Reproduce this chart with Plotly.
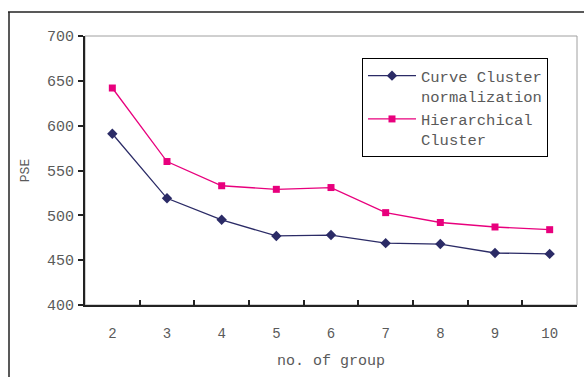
import plotly.graph_objects as go

groups = ["2", "3", "4", "5", "6", "7", "8", "9", "10"]
curve_cluster = [591, 519, 495, 477, 478, 469, 468, 458, 457]
hier_cluster = [642, 560, 533, 529, 531, 503, 492, 487, 484]
y_ticks = [400, 450, 500, 550, 600, 650, 700]

FONT = "Courier New, Liberation Mono, Cousine, Nimbus Mono PS, Courier, monospace"
GRAY = "#5a5a5a"

fig = go.Figure()
fig.add_trace(go.Scatter(
    x=groups, y=curve_cluster, name="Curve Cluster<br>normalization",
    mode="lines+markers",
    line=dict(color="#2b2b66", width=1.3),
    marker=dict(symbol="diamond", size=8, color="#2b2b66"),
))
fig.add_trace(go.Scatter(
    x=groups, y=hier_cluster, name="Hierarchical<br>Cluster",
    mode="lines+markers",
    line=dict(color="#e8007d", width=1.3),
    marker=dict(symbol="square", size=7, color="#e8007d"),
))

fig.update_layout(
    width=584, height=377,
    margin=dict(l=85, r=7, t=36, b=72),
    paper_bgcolor="white", plot_bgcolor="white",
    font=dict(family=FONT, size=14, color=GRAY),
    showlegend=True,
    legend=dict(
        x=0.563, y=0.918, xanchor="left", yanchor="top",
        bordercolor="black", borderwidth=1, bgcolor="white",
        font=dict(family=FONT, size=15.5, color=GRAY),
        valign="top", tracegroupgap=0, itemwidth=48,
    ),
    shapes=[
        dict(type="rect", xref="paper", yref="paper", x0=0, x1=1, y0=0, y1=1,
             line=dict(color="#a0a0a0", width=1), layer="below"),
        dict(type="line", xref="paper", yref="paper",
             x0=(8 - 85) / 492, x1=(584 - 85) / 492,
             y0=1 + (36 - 12) / 269, y1=1 + (36 - 12) / 269,
             line=dict(color="#222", width=1.5)),
        dict(type="line", xref="paper", yref="paper",
             x0=(9 - 85) / 492, x1=(9 - 85) / 492,
             y0=1 + (36 - 12) / 269, y1=-(377 - 305) / 269 - 0.05,
             line=dict(color="#222", width=1.5)),
    ],
)

fig.update_xaxes(
    type="category", categoryorder="array", categoryarray=groups,
    range=[-0.5, 8.5],
    showgrid=False, zeroline=False,
    showline=True, linecolor="#222", linewidth=2,
    ticks="inside", tickson="boundaries", ticklen=5, tickcolor="#222", tickwidth=1.5,
    ticklabelstandoff=14,
    tickfont=dict(family=FONT, size=14, color=GRAY),
    title=dict(text="no. of group", standoff=14,
               font=dict(family=FONT, size=15, color=GRAY)),
)
fig.update_yaxes(
    range=[400, 700], tickvals=y_ticks,
    showgrid=False, zeroline=False,
    showline=True, linecolor="#222", linewidth=2,
    ticks="outside", ticklen=5, tickcolor="#222", tickwidth=1.5,
    ticklabelstandoff=1,
    tickfont=dict(family=FONT, size=15, color=GRAY),
    title=dict(text="PSE", standoff=14,
               font=dict(family=FONT, size=13, color=GRAY)),
)

fig.write_html("out.html")
